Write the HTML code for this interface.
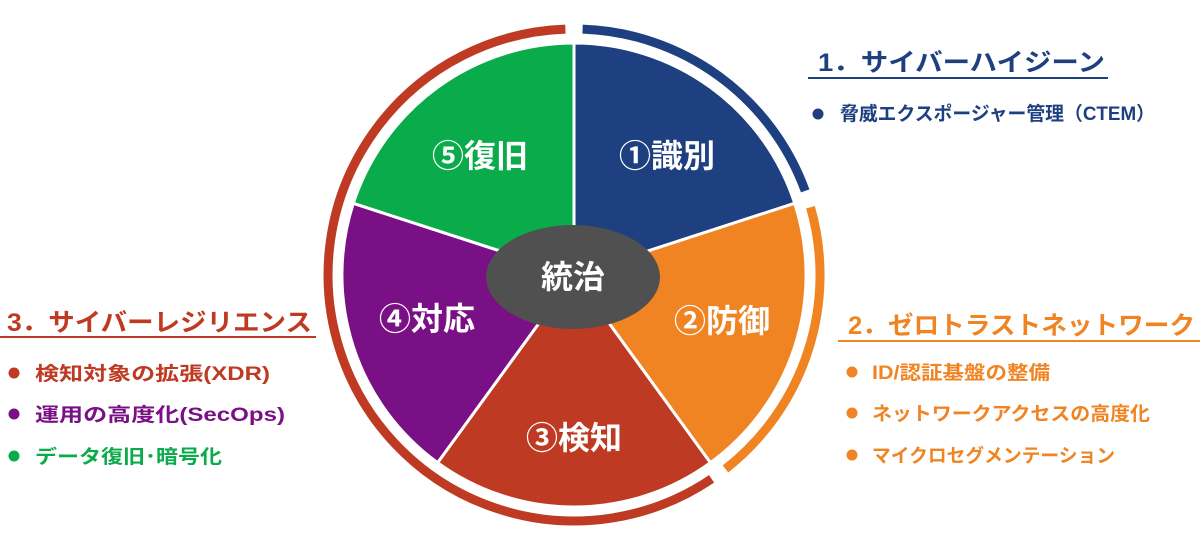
<!DOCTYPE html>
<html><head><meta charset="utf-8"><style>
html,body{margin:0;padding:0;background:#fff;width:1200px;height:550px;overflow:hidden}
svg text{font-family:"Liberation Sans","Noto Sans CJK JP",sans-serif;font-weight:bold}
</style></head><body>
<svg width="1200" height="550" viewBox="0 0 1200 550" xmlns="http://www.w3.org/2000/svg">
<g stroke="#fff" stroke-width="3">
<path d="M574,275 L574,43 A232,232 0 0 1 794.7,203.3 Z" fill="#1e3f80"/>
<path d="M574,275 L794.7,203.3 A232,232 0 0 1 710.4,462.7 Z" fill="#f08423"/>
<path d="M574,275 L710.4,462.7 A232,232 0 0 1 437.6,462.7 Z" fill="#bf3a23"/>
<path d="M574,275 L437.6,462.7 A232,232 0 0 1 353.3,203.3 Z" fill="#7a1085"/>
<path d="M574,275 L353.3,203.3 A232,232 0 0 1 574,43 Z" fill="#0aab4a"/>
</g>
<g fill="none" stroke-width="9">
<path d="M582.6,29.1 A246,246 0 0 1 805.2,190.9" stroke="#1e3f80"/>
<path d="M810.5,207.2 A246,246 0 0 1 725.5,468.9" stroke="#f08423"/>
<path d="M711.6,478.9 A246,246 0 1 1 565.4,29.1" stroke="#bf3a23"/>
</g>
<ellipse cx="573" cy="277" rx="87" ry="52" fill="#505050"/>
<g fill="#fff" font-size="32" text-anchor="middle">
<text x="573" y="288">統治</text>
<text x="667" y="167">①識別</text>
<text x="722" y="332">②防御</text>
<text x="574" y="449">③検知</text>
<text x="427" y="330">④対応</text>
<text x="480" y="167">⑤復旧</text>
</g>
<g font-size="25" lengthAdjust="spacingAndGlyphs">
<text x="818" y="71" fill="#1e3f80" textLength="287" lengthAdjust="spacingAndGlyphs">1．サイバーハイジーン</text>
<text x="848" y="334" fill="#f08423" textLength="347" lengthAdjust="spacingAndGlyphs">2．ゼロトラストネットワーク</text>
<text x="7" y="331" fill="#bf3a23" textLength="305" lengthAdjust="spacingAndGlyphs">3．サイバーレジリエンス</text>
</g>
<line x1="808" y1="78" x2="1108" y2="78" stroke="#1e3f80" stroke-width="2"/>
<line x1="838" y1="341" x2="1200" y2="341" stroke="#f08423" stroke-width="2"/>
<line x1="0" y1="337" x2="316" y2="337" stroke="#bf3a23" stroke-width="2"/>
<g font-size="19">
<circle cx="818" cy="114" r="5.5" fill="#1e3f80"/><text x="840" y="120" fill="#1e3f80" textLength="315" lengthAdjust="spacingAndGlyphs">脅威エクスポージャー管理（CTEM）</text>
<circle cx="852" cy="372" r="5.5" fill="#f08423"/><text x="872" y="379" fill="#f08423" textLength="178" lengthAdjust="spacingAndGlyphs">ID/認証基盤の整備</text>
<circle cx="852" cy="413" r="5.5" fill="#f08423"/><text x="872" y="420" fill="#f08423" textLength="278" lengthAdjust="spacingAndGlyphs">ネットワークアクセスの高度化</text>
<circle cx="852" cy="455" r="5.5" fill="#f08423"/><text x="872" y="462" fill="#f08423" textLength="243" lengthAdjust="spacingAndGlyphs">マイクロセグメンテーション</text>
<circle cx="14" cy="373" r="5.5" fill="#bf3a23"/><text x="35" y="380" fill="#bf3a23" textLength="235" lengthAdjust="spacingAndGlyphs">検知対象の拡張(XDR)</text>
<circle cx="14" cy="414" r="5.5" fill="#7a1085"/><text x="35" y="421" fill="#7a1085" textLength="250" lengthAdjust="spacingAndGlyphs">運用の高度化(SecOps)</text>
<circle cx="14" cy="456" r="5.5" fill="#0aab4a"/><text x="35" y="463" fill="#0aab4a" textLength="187" lengthAdjust="spacingAndGlyphs">データ復旧･暗号化</text>
</g>
</svg>
</body></html>
